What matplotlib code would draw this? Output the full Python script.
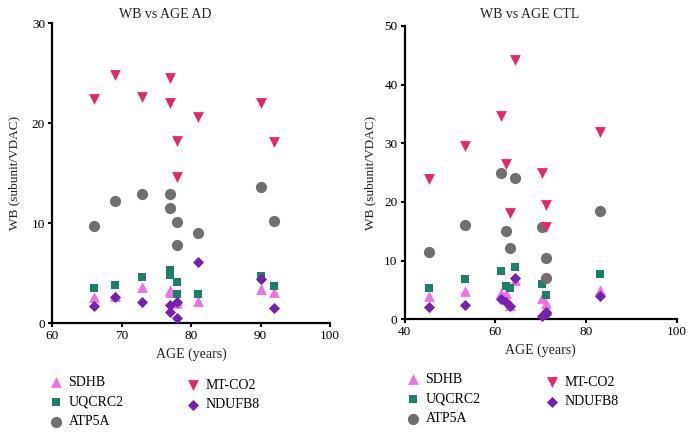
import matplotlib
matplotlib.use('Agg')
import matplotlib.pyplot as plt

plt.rcParams['font.family'] = ['Liberation Serif', 'DejaVu Serif']

# AD group
ad_age = [66, 69, 73, 77, 77, 78, 78, 81, 90, 92]
ad_sdhb = [2.6, 2.7, 3.6, 3.3, 3.1, 2.0, 2.3, 2.2, 3.4, 3.1]
ad_uqcrc2 = [3.5, 3.8, 4.6, 5.3, 4.8, 4.1, 2.9, 2.9, 4.7, 3.7]
ad_atp5a = [9.7, 12.2, 12.9, 12.9, 11.5, 10.1, 7.8, 9.0, 13.6, 10.2]
ad_mtco2 = [22.4, 24.8, 22.6, 24.5, 22.0, 18.2, 14.6, 20.6, 22.0, 18.1]
ad_ndufb8 = [1.7, 2.6, 2.1, 1.8, 1.1, 0.5, 2.1, 6.1, 4.4, 1.5]

# CTL group
ctl_age = [45.5, 53.4, 61.3, 62.4, 63.2, 64.3, 70.2, 71.2, 71.2, 83.1]
ctl_sdhb = [3.9, 4.8, 4.5, 4.4, 2.5, 6.7, 3.7, 2.8, 1.9, 5.0]
ctl_uqcrc2 = [5.4, 6.9, 8.3, 5.6, 5.3, 9.0, 6.1, 4.2, 4.2, 7.8]
ctl_atp5a = [11.5, 16.0, 25.0, 15.0, 12.1, 24.1, 15.8, 10.5, 7.1, 18.5]
ctl_mtco2 = [23.9, 29.5, 34.6, 26.5, 18.1, 44.2, 24.9, 19.4, 15.8, 31.9]
ctl_ndufb8 = [2.1, 2.4, 3.4, 2.9, 2.3, 7.1, 0.6, 1.3, 0.9, 3.9]

names = ['SDHB', 'UQCRC2', 'ATP5A', 'MT-CO2', 'NDUFB8']
markers = ['^', 's', 'o', 'v', 'D']
colors = ['#EE6FE6', '#1B7F69', '#6F6F6F', '#E8246A', '#7420B0']
sizes = [60, 40, 65, 60, 32]


def draw_panel(ax, age, series, xlim, ylim, xticks, yticks, ylabelpad):
    handles = []
    for vals, name, m, c, s in zip(series, names, markers, colors, sizes):
        h = ax.scatter(age, vals, marker=m, color=c, s=s, linewidths=0,
                       clip_on=False, zorder=3, label=name)
        handles.append(h)
    ax.set_xlim(*xlim)
    ax.set_ylim(*ylim)
    ax.set_xticks(xticks)
    ax.set_yticks(yticks)
    for side in ['top', 'right']:
        ax.spines[side].set_visible(False)
    for side in ['left', 'bottom']:
        ax.spines[side].set_linewidth(1.6)
    ax.tick_params(direction='out', length=3, width=1.5, labelsize=9.5, pad=2)
    ax.set_ylabel('WB (subunit/VDAC)', fontsize=9.5, color='#222222', labelpad=ylabelpad)
    ax.set_xlabel('AGE (years)', fontsize=10, color='#222222', labelpad=4)
    return handles


fig = plt.figure(figsize=(6.93, 4.37), dpi=100)
ax1 = fig.add_axes([52 / 693, 1 - 323 / 437, 278 / 693, 300 / 437])
ax2 = fig.add_axes([404.5 / 693, 1 - 319.3 / 437, 272.5 / 693, 293.3 / 437])

h1 = draw_panel(ax1, ad_age, [ad_sdhb, ad_uqcrc2, ad_atp5a, ad_mtco2, ad_ndufb8],
                (60, 100), (0, 30), [60, 70, 80, 90, 100], [0, 10, 20, 30], 8)
h2 = draw_panel(ax2, ctl_age, [ctl_sdhb, ctl_uqcrc2, ctl_atp5a, ctl_mtco2, ctl_ndufb8],
                (40, 100), (0, 50), [40, 60, 80, 100], [0, 10, 20, 30, 40, 50], 6)

fig.text(165 / 693, 1 - 14 / 437, 'WB vs AGE AD', ha='center', va='center',
         fontsize=10, color='#222222')
fig.text(530 / 693, 1 - 14 / 437, 'WB vs AGE CTL', ha='center', va='center',
         fontsize=10, color='#222222')


def add_legend(ax, handles, x1, y1, x2, y2):
    kw = dict(frameon=False, fontsize=10, handlelength=1.0, handletextpad=0.4,
              labelspacing=0.5, borderpad=0, borderaxespad=0, scatterpoints=1,
              loc='center left')
    leg1 = ax.legend(handles[:3], names[:3], bbox_to_anchor=(x1 / 693, 1 - y1 / 437),
                     bbox_transform=fig.transFigure, **kw)
    ax.add_artist(leg1)
    ax.legend(handles[3:], names[3:], bbox_to_anchor=(x2 / 693, 1 - y2 / 437),
              bbox_transform=fig.transFigure, **kw)


add_legend(ax1, h1, 49, 402, 186, 395)
add_legend(ax2, h2, 406, 399, 545, 392)

fig.savefig('out.png', dpi=100)
